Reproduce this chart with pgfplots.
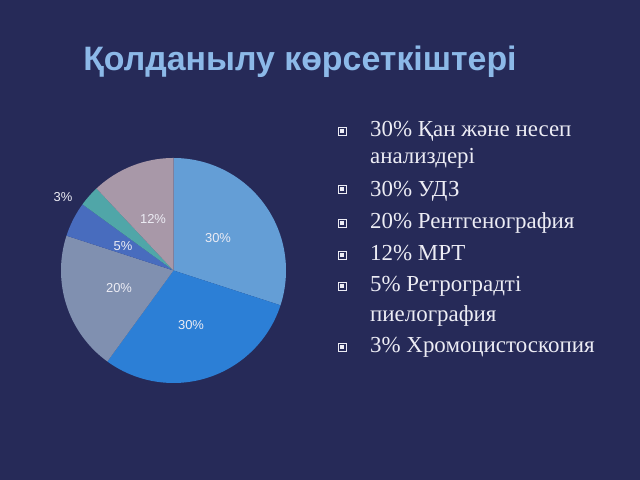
\documentclass[border=0pt]{standalone}
\usepackage{pgfplots}
\pgfplotsset{compat=1.18}
\usepackage{fontspec}
\setmainfont{Liberation Serif}
\newfontfamily\arial{Liberation Sans}
\definecolor{bg}{RGB}{38,42,88}
\definecolor{ttl}{RGB}{140,185,232}
\definecolor{txt}{RGB}{236,236,244}
\definecolor{cA}{RGB}{100,158,214}
\definecolor{cB}{RGB}{44,127,214}
\definecolor{cC}{RGB}{128,144,176}
\definecolor{cD}{RGB}{72,108,190}
\definecolor{cE}{RGB}{80,166,168}
\definecolor{cF}{RGB}{168,152,168}
% #1 cumulative percent before the slice, #2 slice percent, #3 colour
\newcommand{\pieslice}[3]{%
  \addplot[fill=#3, draw=none, domain={90-3.6*(#1+#2)}:{90-3.6*(#1)}, samples=80]
    ({cos(x)},{sin(x)}) -- (axis cs:0,0) -- cycle;}
\begin{document}
\begin{tikzpicture}[x=1bp,y=1bp]
\fill[bg] (0,0) rectangle (640,480);
\node[anchor=base, text=ttl, font=\arial\bfseries\fontsize{34}{40}\selectfont] at (300,409) {Қолданылу көрсеткіштері};
\begin{axis}[at={(173.5bp,209.5bp)}, anchor=origin, width=225bp, height=225bp,
  scale only axis, xmin=-1, xmax=1, ymin=-1, ymax=1, hide axis, clip=false]
\pieslice{0}{30}{cA}
\pieslice{30}{30}{cB}
\pieslice{60}{20}{cC}
\pieslice{80}{5}{cD}
\pieslice{85}{3}{cE}
\pieslice{88}{12}{cF}
\begin{scope}[every node/.style={text=txt, font=\arial\fontsize{13}{15}\selectfont}]
\node at (axis cs:0.396,0.289) {30\%};
\node at (axis cs:0.156,-0.484) {30\%};
\node at (axis cs:-0.484,-0.156) {20\%};
\node at (axis cs:-0.449,0.218) {5\%};
\node at (axis cs:-0.182,0.458) {12\%};
\node at (axis cs:-0.982,0.653) {3\%};
\end{scope}
\end{axis}
\begin{scope}[every node/.style={anchor=base west, text=txt, font=\fontsize{23}{27}\selectfont, inner sep=0pt}]
\node at (370,343) {30\% Қан және несеп};
\node at (370,316) {анализдері};
\node at (370,283) {30\% УДЗ};
\node at (370,251) {20\% Рентгенография};
\node at (370,219) {12\% МРТ};
\node at (370,188) {5\% Ретроградті};
\node at (370,158) {пиелография};
\node at (370,127) {3\% Хромоцистоскопия};
\end{scope}
\foreach \y in {349,291,257,225,194,133}{
  \draw[txt, line width=0.9bp] (338,\y-4) rectangle (346,\y+4);
  \fill[txt] (340.3,\y-1.7) rectangle (343.7,\y+1.7);
}
\end{tikzpicture}
\end{document}
